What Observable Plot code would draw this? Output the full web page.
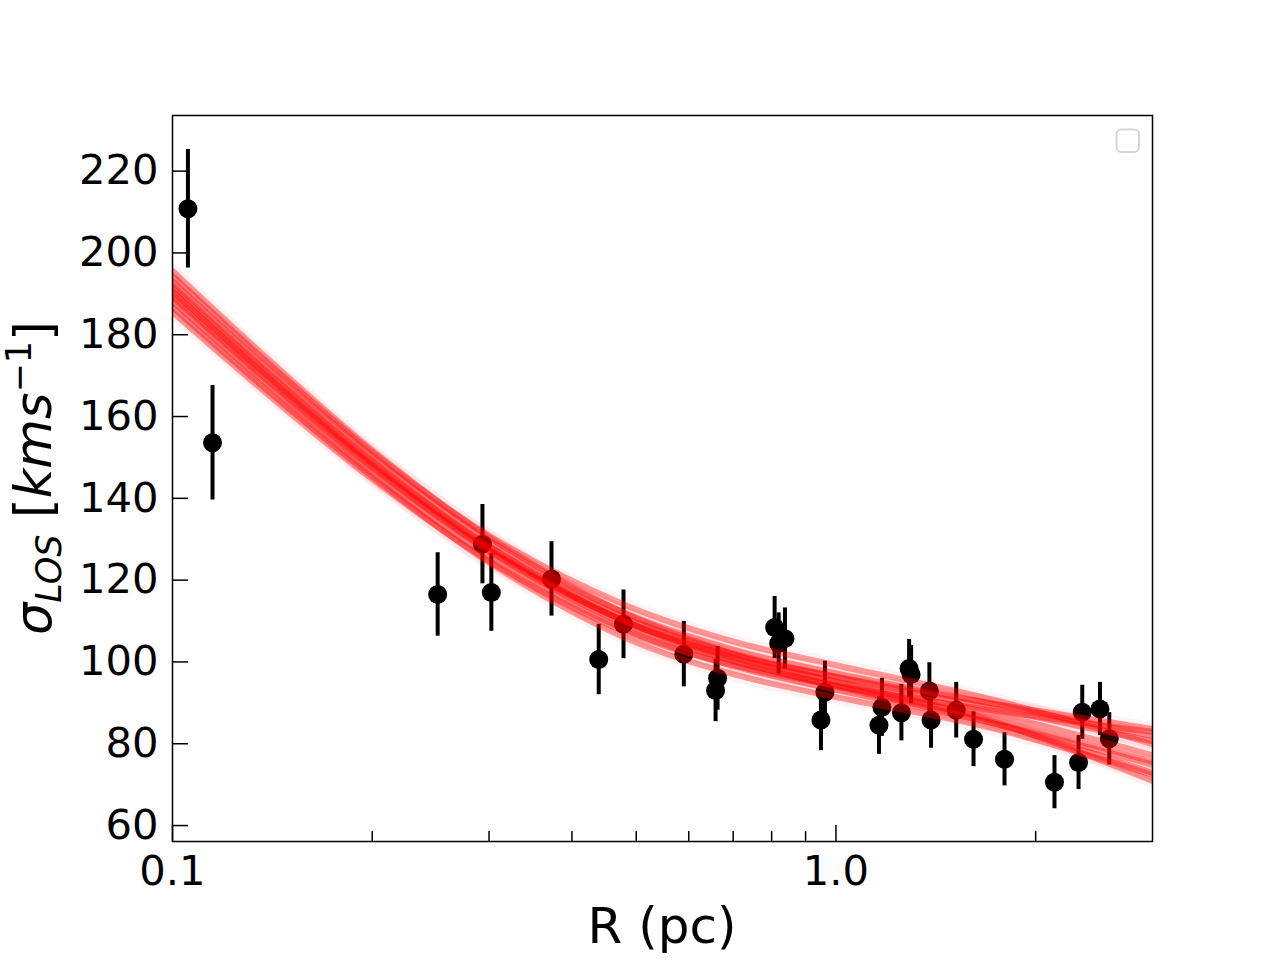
<!DOCTYPE html>
<html>
<head>
<meta charset="utf-8">
<script src="https://cdn.jsdelivr.net/npm/d3@7"></script>
<script src="https://cdn.jsdelivr.net/npm/@observablehq/plot@0.6"></script>
<style>
  html, body { margin: 0; padding: 0; background: #ffffff; }
  #chart svg { display: block; }
</style>
</head>
<body>
<div id="chart"></div>
<script>
// Observed line-of-sight velocity dispersion profile
const radius = [0.1055, 0.1149, 0.251, 0.2932, 0.3024, 0.3726, 0.439, 0.4784, 0.5898, 0.6631,
  0.6585, 0.8083, 0.8197, 0.8378, 0.9625, 0.9493, 1.161, 1.173, 1.255, 1.289,
  1.298, 1.383, 1.391, 1.518, 1.612, 1.795, 2.135, 2.321, 2.351, 2.500, 2.582];
const sigma = [210.8, 153.6, 116.5, 128.8, 117.0, 120.3, 100.6, 109.2, 101.9, 96.0,
  93.0, 108.4, 104.5, 105.7, 92.6, 85.8, 84.5, 88.9, 87.6, 98.4,
  96.9, 92.9, 85.8, 88.2, 81.1, 76.2, 70.6, 75.4, 87.7, 88.5, 81.2];
const sigmaErr = [14.5, 14.0, 10.2, 9.7, 9.5, 9.1, 8.6, 8.4, 8.0, 7.8,
  7.6, 7.6, 7.5, 7.5, 7.6, 7.5, 7.1, 7.1, 6.9, 7.1,
  7.1, 6.9, 6.9, 6.8, 6.7, 6.5, 6.5, 6.6, 6.6, 6.5, 6.4];

// Model sample curves (sigma read at these radii)
const modelR = [0.1, 0.14, 0.2, 0.3, 0.48, 0.7, 1.0, 1.7, 3.0];
const sampleA = [195.6, 173.7, 151.8, 130.5, 112.0, 102.0, 95.2, 85.8, 70.9];
const sampleB = [185.6, 165.1, 144.7, 124.7, 107.5, 99.2, 94.2, 88.3, 82.9];
const sampleC = [193.1, 171.7, 150.4, 129.7, 112.0, 103.0, 97.2, 90.0, 81.9];
const sampleD = [188.1, 167.1, 146.2, 125.7, 108.0, 99.0, 93.2, 85.3, 74.9];
const sampleE = [190.6, 169.4, 148.3, 127.7, 110.0, 101.0, 95.2, 87.6, 77.2];
const sampleF = [192.1, 170.6, 149.2, 128.2, 110.0, 100.4, 94.0, 85.3, 72.9];
const sampleG = [189.1, 168.2, 147.4, 127.2, 110.0, 101.6, 96.4, 90.0, 83.6];
const sampleH = [194.4, 172.8, 151.3, 130.9, 114.0, 105.0, 99.2, 91.0, 79.9];
const sampleI = [186.8, 166.0, 145.3, 124.3, 106.0, 97.0, 91.4, 84.0, 72.4];
const sampleJ = [191.4, 170.0, 148.7, 128.2, 110.8, 102.0, 96.4, 88.9, 80.6];
const sampleK = [189.8, 168.8, 147.9, 127.2, 109.3, 100.2, 94.2, 86.2, 75.6];

const yTicks = [60, 80, 100, 120, 140, 160, 180, 200, 220];
const xMajorTicks = [0.1, 1.0];
const xMinorTicks = [0.2, 0.3, 0.4, 0.5, 0.6, 0.7, 0.8, 0.9, 2.0];

const points = radius.map((r, i) => ({r, s: sigma[i], e: sigmaErr[i]}));
const samples = [sampleA, sampleB, sampleC, sampleD, sampleE, sampleF, sampleG, sampleH, sampleI, sampleJ, sampleK];
const curves = samples.flatMap((vals, k) => vals.map((s, i) => ({k, r: modelR[i], s})));

const W = 1280, H = 960, mL = 172, mR = 128, mT = 115, mB = 119;
const fw = W - mL - mR, fh = H - mT - mB;

const svg = Plot.plot({
  width: W, height: H,
  marginLeft: mL, marginRight: mR, marginTop: mT, marginBottom: mB,
  style: {fontFamily: "'DejaVu Sans', sans-serif", fontSize: "41.7px", background: "#ffffff", color: "#000000"},
  x: {type: "log", domain: [0.1, 3.0], label: null},
  y: {domain: [56.1, 233.6], label: null},
  marks: [
    Plot.ruleX(points, {x: "r", y1: d => d.s - d.e, y2: d => d.s + d.e, stroke: "#000000", strokeWidth: 4}),
    Plot.dot(points, {x: "r", y: "s", r: 9.5, fill: "#000000", stroke: "none"}),
    Plot.line(curves, {x: "r", y: "s", z: "k", stroke: "#ff0000", strokeWidth: 14, strokeOpacity: 0.05, curve: "catmull-rom", clip: true}),
    Plot.line(curves, {x: "r", y: "s", z: "k", stroke: "#ff0000", strokeWidth: 6, strokeOpacity: 0.38, curve: "catmull-rom", clip: true}),
    Plot.tickX(xMinorTicks, {x: d => d, insetTop: fh - 10, stroke: "#000000", strokeWidth: 1.5}),
    Plot.tickX(xMajorTicks, {x: d => d, insetTop: fh - 16, stroke: "#000000", strokeWidth: 1.5}),
    Plot.tickY(yTicks, {y: d => d, insetRight: fw - 16, stroke: "#000000", strokeWidth: 1.5}),
    Plot.axisX(xMajorTicks, {tickSize: 0, tickPadding: 14, tickFormat: d => d.toFixed(1)}),
    Plot.axisY(yTicks, {tickSize: 0, tickPadding: 14, tickFormat: d => String(d)}),
    Plot.frame({stroke: "#000000", strokeWidth: 1.5})
  ]
});

const s = d3.select(svg);
// x-axis label
s.append("text")
  .attr("x", mL + fw / 2).attr("y", 943)
  .attr("text-anchor", "middle")
  .attr("font-family", "'DejaVu Sans', sans-serif")
  .attr("font-size", 50)
  .attr("fill", "#000")
  .text("R (pc)");

// y-axis label: σ_LOS [kms^-1]
const yl = s.append("text")
  .attr("transform", `translate(51,${mT + fh / 2}) rotate(-90)`)
  .attr("text-anchor", "middle")
  .attr("font-family", "'DejaVu Sans', sans-serif")
  .attr("font-size", 51)
  .attr("fill", "#000");
yl.append("tspan").attr("font-style", "italic").text("σ");
yl.append("tspan").attr("font-style", "italic").attr("font-size", 35).attr("dy", 10).text("LOS");
yl.append("tspan").attr("dy", -10).text(" [");
yl.append("tspan").attr("font-style", "italic").text("kms");
yl.append("tspan").attr("font-size", 35).attr("dy", -20).text("−1");
yl.append("tspan").attr("dy", 20).text("]");

// empty legend frame (as in the original)
s.append("rect")
  .attr("x", 1116.5).attr("y", 129.5)
  .attr("width", 22.5).attr("height", 22.5)
  .attr("rx", 5)
  .attr("fill", "#ffffff").attr("fill-opacity", 0.8)
  .attr("stroke", "#d4d4d4").attr("stroke-width", 2);

document.getElementById("chart").appendChild(svg);
</script>
</body>
</html>
